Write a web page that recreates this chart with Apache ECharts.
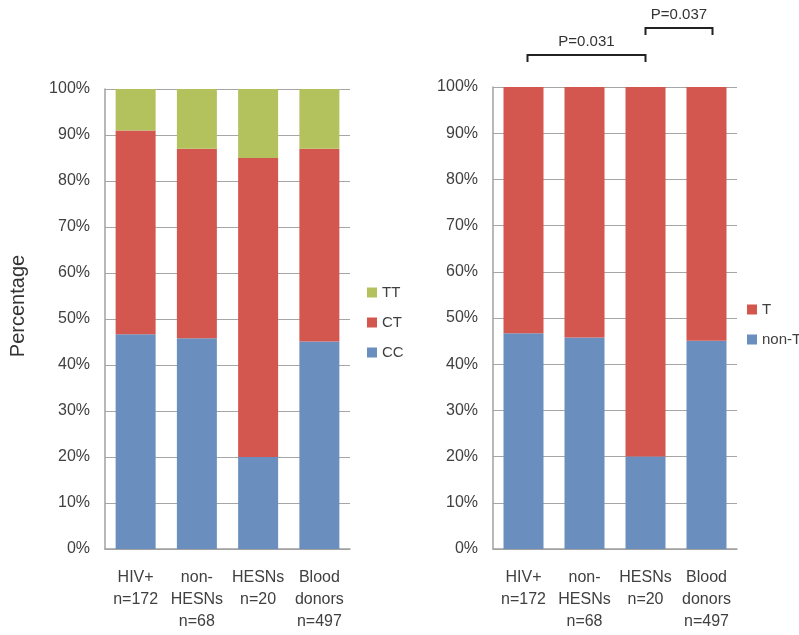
<!DOCTYPE html>
<html><head><meta charset="utf-8">
<script src="https://cdn.jsdelivr.net/npm/echarts@6/dist/echarts.min.js"></script>
<style>html,body{margin:0;padding:0;background:#fff}#c{width:799px;height:635px}</style>
</head><body><div id="c"></div>
<script>
var categories = ['HIV+\nn=172', 'non-\nHESNs\nn=68', 'HESNs\nn=20', 'Blood\ndonors\nn=497'];
var ccValues = [46.7, 45.8, 20, 45.1];
var ctValues = [44.3, 41.2, 65, 41.9];
var ttValues = [9, 13, 15, 13];
var nonTValues = [46.7, 45.8, 20, 45.1];
var tValues = [53.3, 54.2, 80, 54.9];
var yTicks = [0, 10, 20, 30, 40, 50, 60, 70, 80, 90, 100];
var pAnnotations = [
  {from: 0, to: 2, label: 'P=0.031', level: 0},
  {from: 2, to: 3, label: 'P=0.037', level: 1}
];

var FONT = 'Liberation Sans';
var TXT = '#404040';
var BLUE = '#6a8fbe', RED = '#d4574f', GREEN = '#b4c25e';

function yAxis(idx) {
  return {
    gridIndex: idx, type: 'value', min: 0, max: 100, interval: 10,
    axisLine: {show: true, lineStyle: {color: '#a0a0a0', width: 1.5}},
    axisTick: {show: false},
    splitLine: {lineStyle: {color: '#a6a6a6', width: 1}},
    axisLabel: {formatter: '{value}%', color: TXT, fontSize: 16, fontFamily: FONT, margin: 15}
  };
}
function xAxis(idx) {
  return {
    gridIndex: idx, type: 'category', data: categories,
    axisLine: {lineStyle: {color: '#a0a0a0', width: 1.5}},
    axisTick: {show: false},
    axisLabel: {color: TXT, fontSize: 16, fontFamily: FONT, lineHeight: 22, margin: 18, interval: 0}
  };
}

var chart = echarts.init(document.getElementById('c'), null, {renderer: 'canvas'});
chart.setOption({
  animation: false,
  backgroundColor: '#fff',
  grid: [
    {left: 105, right: 449, top: 89, bottom: 86},
    {left: 493, right: 62, top: 87, bottom: 86}
  ],
  xAxis: [xAxis(0), xAxis(1)],
  yAxis: [yAxis(0), yAxis(1)],
  legend: [
    {data: ['TT', 'CT', 'CC'], orient: 'vertical', left: 362, top: 280, icon: 'rect',
     itemWidth: 10, itemHeight: 10, itemGap: 15, selectedMode: false,
     textStyle: {fontSize: 15, fontFamily: FONT, color: TXT}},
    {data: ['T', 'non-T'], orient: 'vertical', left: 742, top: 297, icon: 'rect',
     itemWidth: 10, itemHeight: 10, itemGap: 15, selectedMode: false,
     textStyle: {fontSize: 15, fontFamily: FONT, color: TXT}}
  ],
  graphic: [{
    type: 'text', left: 8, top: 306, rotation: Math.PI / 2,
    style: {text: 'Percentage', font: '20px ' + FONT, fill: '#333', align: 'center', verticalAlign: 'middle'},
    x: 18, y: 306
  }],
  series: [
    {name: 'CC', type: 'bar', stack: 'a', xAxisIndex: 0, yAxisIndex: 0, barWidth: 40, data: ccValues, itemStyle: {color: BLUE}},
    {name: 'CT', type: 'bar', stack: 'a', xAxisIndex: 0, yAxisIndex: 0, barWidth: 40, data: ctValues, itemStyle: {color: RED}},
    {name: 'TT', type: 'bar', stack: 'a', xAxisIndex: 0, yAxisIndex: 0, barWidth: 40, data: ttValues, itemStyle: {color: GREEN}},
    {name: 'non-T', type: 'bar', stack: 'b', xAxisIndex: 1, yAxisIndex: 1, barWidth: 40, data: nonTValues, itemStyle: {color: BLUE}},
    {name: 'T', type: 'bar', stack: 'b', xAxisIndex: 1, yAxisIndex: 1, barWidth: 40, data: tValues, itemStyle: {color: RED}}
  ]
});

var g = [{
  type: 'text', x: 18, y: 306, rotation: Math.PI / 2,
  style: {text: 'Percentage', font: '20px ' + FONT, fill: '#333', align: 'center', verticalAlign: 'middle'}
}];
pAnnotations.forEach(function (a) {
  var p1 = chart.convertToPixel({xAxisIndex: 1, yAxisIndex: 1}, [a.from, 100]);
  var p2 = chart.convertToPixel({xAxisIndex: 1, yAxisIndex: 1}, [a.to, 100]);
  var x1 = p1[0] + (a.level === 0 ? 4 : 0);
  var x2 = p2[0] + (a.level === 1 ? 6 : 0);
  var yTop = p1[1] - 32 - a.level * 27;
  g.push({type: 'polyline', shape: {points: [[x1, yTop + 7], [x1, yTop], [x2, yTop], [x2, yTop + 7]]},
          style: {stroke: '#222', lineWidth: 2, fill: null}});
  g.push({type: 'text', x: (x1 + x2) / 2, y: yTop - 13,
          style: {text: a.label, font: '15px ' + FONT, fill: '#333', align: 'center', verticalAlign: 'middle'}});
});
chart.setOption({graphic: g}, {replaceMerge: ['graphic']});
</script></body></html>
